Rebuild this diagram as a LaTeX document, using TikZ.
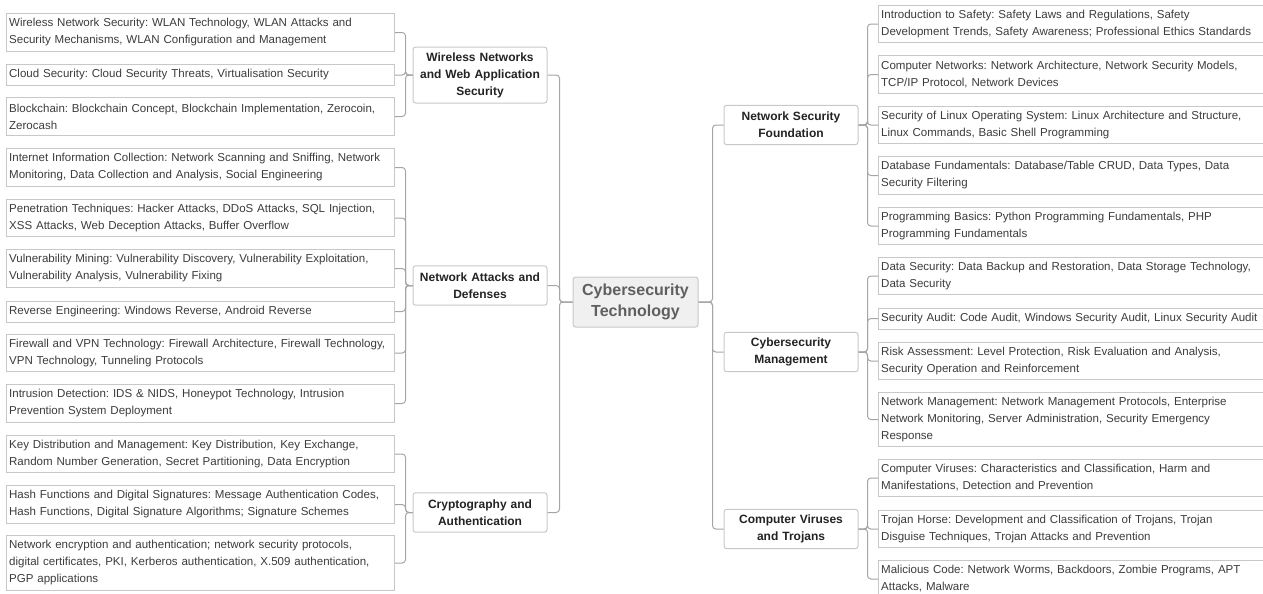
\documentclass[tikz,border=0pt]{standalone}
\usepackage{fontspec}
\setmainfont{Liberation Sans}
\usepackage{tikz}
\usetikzlibrary{positioning, calc}
\frenchspacing
\hyphenpenalty=10000
\exhyphenpenalty=10000
\definecolor{boxgray}{RGB}{200,200,200}
\definecolor{linkgray}{RGB}{165,165,165}
\definecolor{rootfill}{RGB}{240,240,240}
\definecolor{leaftext}{RGB}{60,60,60}
\definecolor{cattext}{RGB}{35,35,35}
\definecolor{roottext}{RGB}{95,95,95}
\tikzset{
  leaf/.style={rectangle, draw=boxgray, fill=white, anchor=west,
    text width=287pt, inner xsep=2pt, inner ysep=0pt, align=left,
    font=\fontsize{8.65}{12.75}\selectfont, text=leaftext, line width=0.75pt},
  hone/.style={minimum height=15.75pt},
  htwo/.style={minimum height=28.2pt},
  hthree/.style={minimum height=40.9pt},
  topic/.style={rectangle, draw=boxgray, fill=white,
    text width=94pt, inner xsep=3.25pt, inner ysep=0pt, align=center,
    font=\bfseries\fontsize{9}{12.75}\selectfont, text=cattext,
    rounded corners=2pt, line width=0.75pt},
  root/.style={rectangle, draw=boxgray, fill=rootfill,
    minimum width=93.75pt, minimum height=37.5pt, inner sep=0pt, align=center,
    font=\bfseries\fontsize{12}{16}\selectfont, text=roottext,
    rounded corners=2pt, line width=0.75pt},
  link/.style={draw=linkgray, line width=0.75pt, rounded corners=2.5pt}
}

\begin{document}
\begin{tikzpicture}[x=0.75pt, y=-0.75pt]
  \useasboundingbox (0,0) rectangle (1263,593);
  \clip (0,0) rectangle (1263,593);
  % centre
  \node[root] (root) at (635.5,302) {Cybersecurity\\Technology};
  % left topics
  \node[topic, minimum height=42pt] (wireless) at (480,75) {Wireless Networks\\and Web Application\\Security};
  \node[topic, minimum height=29.6pt] (attacks) at (480,285.5) {Network Attacks and\\Defenses};
  \node[topic, minimum height=29.6pt] (crypto) at (480,512.5) {Cryptography and\\Authentication};
  % right topics
  \node[topic, minimum height=29.6pt] (found) at (791,125) {Network Security\\Foundation};
  \node[topic, minimum height=29.6pt] (manage) at (791,352) {Cybersecurity\\Management};
  \node[topic, minimum height=29.6pt] (virus) at (791,529) {Computer Viruses\\and Trojans};
  % wireless leaves
  \node[leaf, htwo] (wlan) at (6,32.5) {Wireless Network Security: WLAN Technology, WLAN Attacks and\\Security Mechanisms, WLAN Configuration and Management};
  \node[leaf, hone] (cloud) at (6,75) {Cloud Security: Cloud Security Threats, Virtualisation Security};
  \node[leaf, htwo] (chain) at (6,116.5) {Blockchain: Blockchain Concept, Blockchain Implementation, Zerocoin,\\Zerocash};
  % attack leaves
  \node[leaf, htwo] (infocol) at (6,167.5) {Internet Information Collection: Network Scanning and Sniffing, Network\\Monitoring, Data Collection and Analysis, Social Engineering};
  \node[leaf, htwo] (pentest) at (6,218) {Penetration Techniques: Hacker Attacks, DDoS Attacks, SQL Injection,\\XSS Attacks, Web Deception Attacks, Buffer Overflow};
  \node[leaf, htwo] (vulmin) at (6,268.5) {Vulnerability Mining: Vulnerability Discovery, Vulnerability Exploitation,\\Vulnerability Analysis, Vulnerability Fixing};
  \node[leaf, hone] (reveng) at (6,311.5) {Reverse Engineering: Windows Reverse, Android Reverse};
  \node[leaf, htwo] (firewall) at (6,353) {Firewall and VPN Technology: Firewall Architecture, Firewall Technology,\\VPN Technology, Tunneling Protocols};
  \node[leaf, htwo] (intrus) at (6,403.5) {Intrusion Detection: IDS \& NIDS, Honeypot Technology, Intrusion\\Prevention System Deployment};
  % crypto leaves
  \node[leaf, htwo] (keydist) at (6,454) {Key Distribution and Management: Key Distribution, Key Exchange,\\Random Number Generation, Secret Partitioning, Data Encryption};
  \node[leaf, htwo] (hashsig) at (6,504.5) {Hash Functions and Digital Signatures: Message Authentication Codes,\\Hash Functions, Digital Signature Algorithms; Signature Schemes};
  \node[leaf, hthree] (netenc) at (6,563) {Network encryption and authentication; network security protocols,\\digital certificates, PKI, Kerberos authentication, X.509 authentication,\\PGP applications};
  % foundation leaves
  \node[leaf, htwo] (intro) at (878,24) {Introduction to Safety: Safety Laws and Regulations, Safety\\Development Trends, Safety Awareness; Professional Ethics Standards};
  \node[leaf, htwo] (compnet) at (878,74.5) {Computer Networks: Network Architecture, Network Security Models,\\TCP/IP Protocol, Network Devices};
  \node[leaf, htwo] (linux) at (878,125) {Security of Linux Operating System: Linux Architecture and Structure,\\Linux Commands, Basic Shell Programming};
  \node[leaf, htwo] (dbase) at (878,175.5) {Database Fundamentals: Database/Table CRUD, Data Types, Data\\Security Filtering};
  \node[leaf, htwo] (progbas) at (878,226) {Programming Basics: Python Programming Fundamentals, PHP\\Programming Fundamentals};
  % management leaves
  \node[leaf, htwo] (datasec) at (878,276) {Data Security: Data Backup and Restoration, Data Storage Technology,\\Data Security};
  \node[leaf, hone] (audit) at (878,318.5) {Security Audit: Code Audit, Windows Security Audit, Linux Security Audit};
  \node[leaf, htwo] (risk) at (878,361) {Risk Assessment: Level Protection, Risk Evaluation and Analysis,\\Security Operation and Reinforcement};
  \node[leaf, hthree] (netman) at (878,419.5) {Network Management: Network Management Protocols, Enterprise\\Network Monitoring, Server Administration, Security Emergency\\Response};
  % virus leaves
  \node[leaf, htwo] (compvir) at (878,478) {Computer Viruses: Characteristics and Classification, Harm and\\Manifestations, Detection and Prevention};
  \node[leaf, htwo] (trojan) at (878,529) {Trojan Horse: Development and Classification of Trojans, Trojan\\Disguise Techniques, Trojan Attacks and Prevention};
  \node[leaf, htwo] (malcode) at (878,579) {Malicious Code: Network Worms, Backdoors, Zombie Programs, APT\\Attacks, Malware};
  % trunk links
  \draw[link] (root.west) -- ++(-13,0) |- (wireless.east);
  \draw[link] (root.west) -- ++(-13,0) |- (attacks.east);
  \draw[link] (root.west) -- ++(-13,0) |- (crypto.east);
  \draw[link] (root.east) -- ++(14,0) |- (found.west);
  \draw[link] (root.east) -- ++(14,0) |- (manage.west);
  \draw[link] (root.east) -- ++(14,0) |- (virus.west);
  % left brackets
  \draw[link] (wireless.west) -- ++(-7,0) |- (wlan.east);
  \draw[link] (wireless.west) -- ++(-7,0) |- (cloud.east);
  \draw[link] (wireless.west) -- ++(-7,0) |- (chain.east);
  \draw[link] (attacks.west) -- ++(-7,0) |- (infocol.east);
  \draw[link] (attacks.west) -- ++(-7,0) |- (pentest.east);
  \draw[link] (attacks.west) -- ++(-7,0) |- (vulmin.east);
  \draw[link] (attacks.west) -- ++(-7,0) |- (reveng.east);
  \draw[link] (attacks.west) -- ++(-7,0) |- (firewall.east);
  \draw[link] (attacks.west) -- ++(-7,0) |- (intrus.east);
  \draw[link] (crypto.west) -- ++(-7,0) |- (keydist.east);
  \draw[link] (crypto.west) -- ++(-7,0) |- (hashsig.east);
  \draw[link] (crypto.west) -- ++(-7,0) |- (netenc.east);
  % right brackets
  \draw[link] (found.east) -- ++(9,0) |- (intro.west);
  \draw[link] (found.east) -- ++(9,0) |- (compnet.west);
  \draw[link] (found.east) -- ++(9,0) |- (linux.west);
  \draw[link] (found.east) -- ++(9,0) |- (dbase.west);
  \draw[link] (found.east) -- ++(9,0) |- (progbas.west);
  \draw[link] (manage.east) -- ++(9,0) |- (datasec.west);
  \draw[link] (manage.east) -- ++(9,0) |- (audit.west);
  \draw[link] (manage.east) -- ++(9,0) |- (risk.west);
  \draw[link] (manage.east) -- ++(9,0) |- (netman.west);
  \draw[link] (virus.east) -- ++(9,0) |- (compvir.west);
  \draw[link] (virus.east) -- ++(9,0) |- (trojan.west);
  \draw[link] (virus.east) -- ++(9,0) |- (malcode.west);
\end{tikzpicture}
\end{document}
